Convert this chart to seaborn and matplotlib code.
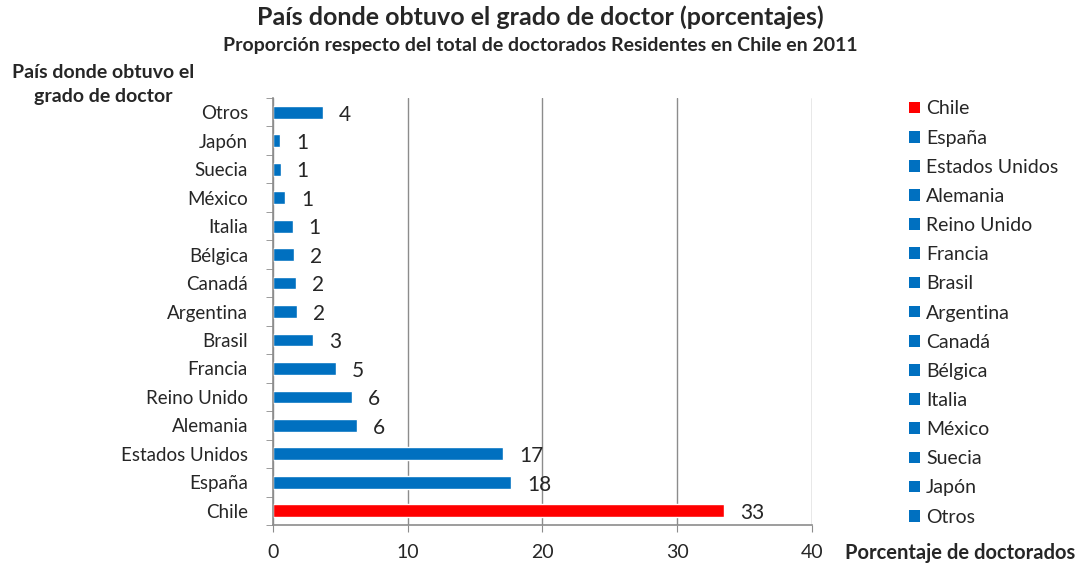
import numpy as np
import pandas as pd
import seaborn as sns
import matplotlib
matplotlib.use('Agg')
import matplotlib.pyplot as plt
from matplotlib.patches import Patch

# datos (porcentajes)
paises = ['Chile', 'España', 'Estados Unidos', 'Alemania', 'Reino Unido', 'Francia',
          'Brasil', 'Argentina', 'Canadá', 'Bélgica', 'Italia', 'México', 'Suecia',
          'Japón', 'Otros']
porcentajes = [33.5, 17.65, 17.1, 6.25, 5.85, 4.65, 2.95, 1.75, 1.7, 1.55, 1.45,
               0.88, 0.56, 0.5, 3.72]
etiquetas = ['33', '18', '17', '6', '6', '5', '3', '2', '2', '2', '1', '1', '1', '1', '4']
colores = ['#FF0000'] + ['#0070C0'] * 14

base = pd.DataFrame({'Pais': paises, 'Porcentaje': porcentajes})
orden = paises[::-1]  # Otros arriba, Chile abajo

sns.set_style('white')
plt.rcParams['font.family'] = ['Lato', 'DejaVu Sans']

fig = plt.figure(figsize=(10.76, 5.65), dpi=100)
ax = fig.add_axes([0.2537, 0.0708, 0.5009, 0.7557])

sns.barplot(data=base, y='Pais', x='Porcentaje', hue='Pais', order=orden,
            hue_order=paises, palette=dict(zip(paises, colores)), dodge=False,
            width=0.45, legend=False, ax=ax, saturation=1)

# etiquetas de datos
for p, v, t in zip(paises, porcentajes, etiquetas):
    ax.text(v + 1.2, orden.index(p) + 0.08, t, ha='left', va='center', fontsize=15)

ax.set_xlim(0, 40)
ax.set_ylim(len(paises) - 0.5, -0.5)
ax.set_xticks([0, 10, 20, 30, 40])
ax.xaxis.grid(True, color='#8c8c8c', linewidth=1)
ax.set_axisbelow(True)
ax.tick_params(axis='x', labelsize=14, length=5, color='#8c8c8c', pad=9, direction='out', bottom=True)
ax.tick_params(axis='y', which='major', labelsize=13.5, length=0, pad=18)
ax.set_yticks(np.arange(-0.5, len(paises), 1), minor=True)
ax.tick_params(axis='y', which='minor', length=5, color='#8c8c8c', direction='out', left=True)

for lado in ['top', 'right']:
    ax.spines[lado].set_visible(False)
for lado in ['left', 'bottom']:
    ax.spines[lado].set_color('#8c8c8c')
    ax.spines[lado].set_linewidth(1.2)

ax.set_xlabel('')
ax.set_ylabel('')

# titulos
fig.text(0.502, 0.969, 'País donde obtuvo el grado de doctor (porcentajes)',
         ha='center', va='center', fontsize=18, fontweight='bold')
fig.text(0.502, 0.92, 'Proporción respecto del total de doctorados Residentes en Chile en 2011',
         ha='center', va='center', fontsize=14, fontweight='bold')
fig.text(0.096, 0.85, 'País donde obtuvo el\ngrado de doctor', ha='center', va='center',
         fontsize=14, fontweight='bold', linespacing=1.5)
fig.text(0.999, 0.021, 'Porcentaje de doctorados', ha='right', va='center',
         fontsize=14.5, fontweight='bold')

# leyenda
manijas = [Patch(facecolor=c, edgecolor='none') for c in colores]
fig.legend(manijas, paises, loc='upper left', bbox_to_anchor=(0.838, 0.836),
           frameon=False, fontsize=14, handlelength=0.55, handleheight=0.55,
           handletextpad=0.3, labelspacing=0.625, borderaxespad=0)

fig.savefig('out.png', dpi=100)
